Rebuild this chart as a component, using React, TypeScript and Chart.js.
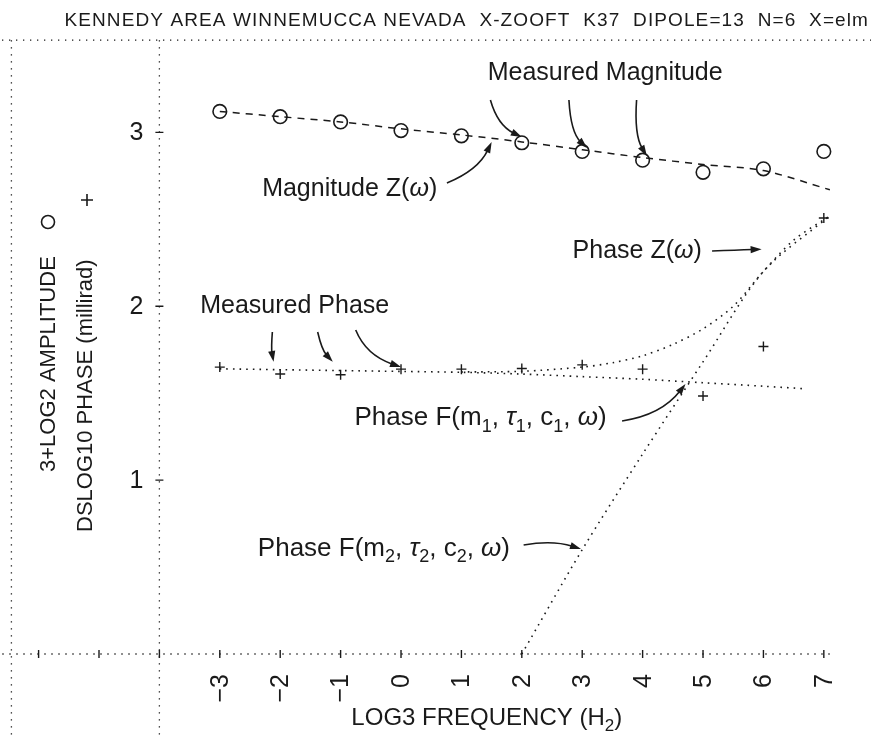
import React, { useEffect, useRef } from "react";
import { Chart, registerables } from "chart.js";

Chart.register(...registerables);

// ---- data -------------------------------------------------------------
const freqs = [-3, -2, -1, 0, 1, 2, 3, 4, 5, 6, 7];
const measuredMagnitude = [3.12, 3.09, 3.06, 3.01, 2.98, 2.94, 2.89, 2.84, 2.77, 2.79, 2.89];
const measuredPhase = [1.65, 1.61, 1.606, 1.638, 1.638, 1.642, 1.663, 1.638, 1.484, 1.768, 2.507];

const magnitudeFitX = [-3, -2, -1, 0, 1, 2, 3, 4, 5, 6, 7.1];
const magnitudeFit = [3.12, 3.09, 3.06, 3.02, 2.985, 2.945, 2.9, 2.855, 2.815, 2.78, 2.67];

const phaseF1X = [-3, -2, -1, 0, 1, 2, 3, 4, 5, 6, 6.7];
const phaseF1 = [1.64, 1.635, 1.63, 1.625, 1.62, 1.61, 1.595, 1.58, 1.56, 1.54, 1.525];

const phaseF2X = [2, 3, 4, 5, 6, 7.1];
const phaseF2 = [0, 0.6, 1.15, 1.68, 2.2, 2.52];

const phaseZX = [1, 2, 3, 3.5, 4, 4.5, 5, 5.5, 6, 6.5, 7.1];
const phaseZ = [1.622, 1.626, 1.65, 1.675, 1.715, 1.78, 1.87, 2.0, 2.2, 2.38, 2.52];

const xTickValues = [-6, -5, -4, -3, -2, -1, 0, 1, 2, 3, 4, 5, 6, 7];
const xTickLabels = ["\u22123", "\u22122", "\u22121", "0", "1", "2", "3", "4", "5", "6", "7"];
const yTickValues = [1, 2, 3];

const TITLE = "KENNEDY AREA WINNEMUCCA NEVADA  X-ZOOFT  K37  DIPOLE=13  N=6  X=elm";

// ---- drawing helpers ---------------------------------------------------
const FONT = '"Liberation Sans", Arial, Helvetica, sans-serif';
const INK = "#1a1a1a";

type Seg = { t: string; sub?: boolean; it?: boolean };

function segFont(s: Seg, size: number) {
  return `${s.it ? "italic " : ""}${s.sub ? Math.round(size * 0.7) : size}px ${FONT}`;
}

function drawRich(ctx: CanvasRenderingContext2D, segs: Seg[], x: number, y: number, size: number, align: "left" | "center" | "right") {
  let total = 0;
  const widths = segs.map((s) => {
    ctx.font = segFont(s, size);
    const w = ctx.measureText(s.t).width;
    total += w;
    return w;
  });
  let cx = align === "left" ? x : align === "center" ? x - total / 2 : x - total;
  ctx.textAlign = "left";
  ctx.textBaseline = "alphabetic";
  segs.forEach((s, i) => {
    ctx.font = segFont(s, size);
    ctx.fillText(s.t, cx, s.sub ? y + size * 0.24 : y);
    cx += widths[i];
  });
}

type P = { x: number; y: number };

function arrow(ctx: CanvasRenderingContext2D, p0: P, c: P, p1: P) {
  const ang = Math.atan2(p1.y - c.y, p1.x - c.x);
  const L = 11;
  const hw = 3.6;
  const bx = p1.x - L * Math.cos(ang);
  const by = p1.y - L * Math.sin(ang);
  ctx.beginPath();
  ctx.moveTo(p0.x, p0.y);
  ctx.quadraticCurveTo(c.x, c.y, bx + 2 * Math.cos(ang), by + 2 * Math.sin(ang));
  ctx.setLineDash([]);
  ctx.lineWidth = 1.6;
  ctx.strokeStyle = INK;
  ctx.stroke();
  ctx.beginPath();
  ctx.moveTo(p1.x, p1.y);
  ctx.lineTo(bx - hw * Math.sin(ang), by + hw * Math.cos(ang));
  ctx.lineTo(bx + hw * Math.sin(ang), by - hw * Math.cos(ang));
  ctx.closePath();
  ctx.fillStyle = INK;
  ctx.fill();
}

const framePlugin = {
  id: "frame",
  beforeDatasetsDraw(chart: any) {
    const { ctx, scales } = chart;
    const xs = scales.x;
    const ys = scales.y;
    const X = (v: number) => xs.getPixelForValue(v);
    const Y = (v: number) => ys.getPixelForValue(v);
    const bottom = chart.height;
    const right = chart.width;

    ctx.save();
    ctx.strokeStyle = INK;
    ctx.lineWidth = 1.3;
    ctx.setLineDash([1.3, 5.7]);

    // outer dotted frame: top and left
    ctx.beginPath();
    ctx.moveTo(2, Y(3.53));
    ctx.lineTo(right, Y(3.53));
    ctx.moveTo(X(-6.45), Y(3.53));
    ctx.lineTo(X(-6.45), bottom);
    // dotted axes
    ctx.moveTo(X(-4), Y(3.53));
    ctx.lineTo(X(-4), bottom);
    ctx.moveTo(X(-6.6), Y(0));
    ctx.lineTo(X(7.15), Y(0));
    ctx.stroke();

    // tick marks
    ctx.setLineDash([]);
    ctx.lineWidth = 1.4;
    ctx.beginPath();
    xTickValues.forEach((v) => {
      ctx.moveTo(X(v), Y(0) - 4);
      ctx.lineTo(X(v), Y(0) + 4);
    });
    yTickValues.forEach((v) => {
      ctx.moveTo(X(-4) - 4, Y(v));
      ctx.lineTo(X(-4) + 4, Y(v));
    });
    ctx.stroke();
    ctx.restore();
  },
  afterDraw(chart: any) {
    const { ctx, scales } = chart;
    const xs = scales.x;
    const ys = scales.y;
    const X = (v: number) => xs.getPixelForValue(v);
    const Y = (v: number) => ys.getPixelForValue(v);
    const pt = (x: number, y: number) => ({ x: X(x), y: Y(y) });
    const S = 25;

    ctx.save();
    ctx.fillStyle = INK;

    // title
    ctx.font = `19px ${FONT}`;
    (ctx as any).letterSpacing = "1.1px";
    ctx.textAlign = "right";
    ctx.textBaseline = "alphabetic";
    ctx.fillText(TITLE, chart.width - 2, 26);
    (ctx as any).letterSpacing = "0px";

    // y tick labels
    ctx.font = `${S}px ${FONT}`;
    ctx.textAlign = "right";
    ctx.textBaseline = "middle";
    yTickValues.forEach((v) => ctx.fillText(String(v), X(-4) - 16, Y(v) + 1));

    // x tick labels, rotated
    freqs.forEach((v, i) => {
      ctx.save();
      ctx.translate(X(v) + 1, Y(0) + 20);
      ctx.rotate(-Math.PI / 2);
      ctx.font = `${S}px ${FONT}`;
      ctx.textAlign = "right";
      ctx.textBaseline = "middle";
      ctx.fillText(xTickLabels[i], 0, 0);
      ctx.restore();
    });

    // x axis title
    drawRich(ctx, [{ t: "LOG3 FREQUENCY (H" }, { t: "2", sub: true }, { t: ")" }], X(1.42), Y(-0.41), 24, "center");

    // y axis titles with their marker symbols
    const drawVertical = (text: string, cx: number, startY: number) => {
      ctx.save();
      ctx.translate(cx, startY);
      ctx.rotate(-Math.PI / 2);
      ctx.font = `22px ${FONT}`;
      ctx.textAlign = "left";
      ctx.textBaseline = "middle";
      ctx.fillText(text, 0, 0);
      ctx.restore();
    };
    drawVertical("3+LOG2 AMPLITUDE", 49, 472);
    drawVertical("DSLOG10 PHASE (millirad)", 86, 532);
    ctx.strokeStyle = INK;
    ctx.lineWidth = 1.6;
    ctx.beginPath();
    ctx.arc(48, 222, 6.5, 0, Math.PI * 2);
    ctx.stroke();
    ctx.beginPath();
    ctx.moveTo(87, 194);
    ctx.lineTo(87, 206);
    ctx.moveTo(81, 200);
    ctx.lineTo(93, 200);
    ctx.stroke();

    // annotations
    ctx.fillStyle = INK;
    drawRich(ctx, [{ t: "Measured Magnitude" }], X(3.38), Y(3.3), S, "center");
    arrow(ctx, pt(1.48, 3.186), pt(1.6, 3.04), pt(2.0, 2.973));
    arrow(ctx, pt(2.78, 3.186), pt(2.81, 3.0), pt(3.08, 2.91));
    arrow(ctx, pt(3.9, 3.186), pt(3.86, 2.985), pt(4.07, 2.864));

    drawRich(ctx, [{ t: "Magnitude Z(" }, { t: "\u03c9", it: true }, { t: ")" }], X(-0.85), Y(2.635), S, "center");
    arrow(ctx, pt(0.76, 2.708), pt(1.28, 2.783), pt(1.5, 2.944));

    drawRich(ctx, [{ t: "Measured Phase" }], X(-1.76), Y(1.96), S, "center");
    arrow(ctx, pt(-2.13, 1.852), pt(-2.15, 1.76), pt(-2.11, 1.68));
    arrow(ctx, pt(-1.38, 1.852), pt(-1.31, 1.748), pt(-1.13, 1.68));
    arrow(ctx, pt(-0.75, 1.863), pt(-0.58, 1.719), pt(0.0, 1.65));

    drawRich(ctx, [{ t: "Phase Z(" }, { t: "\u03c9", it: true }, { t: ")" }], X(4.98), Y(2.28), S, "right");
    arrow(ctx, pt(5.15, 2.318), pt(5.55, 2.322), pt(5.97, 2.328));

    drawRich(
      ctx,
      [
        { t: "Phase F(m" }, { t: "1", sub: true }, { t: ", " }, { t: "\u03c4", it: true }, { t: "1", sub: true },
        { t: ", c" }, { t: "1", sub: true }, { t: ", " }, { t: "\u03c9", it: true }, { t: ")" },
      ],
      X(-0.77), Y(1.315), 26, "left"
    );
    arrow(ctx, pt(3.66, 1.34), pt(4.31, 1.374), pt(4.71, 1.553));

    drawRich(
      ctx,
      [
        { t: "Phase F(m" }, { t: "2", sub: true }, { t: ", " }, { t: "\u03c4", it: true }, { t: "2", sub: true },
        { t: ", c" }, { t: "2", sub: true }, { t: ", " }, { t: "\u03c9", it: true }, { t: ")" },
      ],
      X(-2.37), Y(0.565), 26, "left"
    );
    arrow(ctx, pt(2.03, 0.627), pt(2.51, 0.656), pt(2.98, 0.604));

    ctx.restore();
  },
};

const pts = (xs: number[], ys: number[]) => xs.map((x, i) => ({ x, y: ys[i] }));

export default function App() {
  const ref = useRef<HTMLCanvasElement | null>(null);

  useEffect(() => {
    if (!ref.current) return;
    const dotted = { borderColor: INK, borderWidth: 1.6, borderDash: [1.6, 5], pointRadius: 0, showLine: true, tension: 0.3, fill: false };
    const chart = new Chart(ref.current, {
      type: "scatter",
      data: {
        datasets: [
          {
            label: "Measured magnitude",
            data: pts(freqs, measuredMagnitude),
            pointStyle: "circle",
            pointRadius: 6.8,
            pointBorderWidth: 1.6,
            borderColor: INK,
            backgroundColor: "rgba(0,0,0,0)",
            showLine: false,
          },
          {
            label: "Measured phase",
            data: pts(freqs, measuredPhase),
            pointStyle: "cross",
            pointRadius: 5,
            pointBorderWidth: 1.4,
            borderColor: INK,
            backgroundColor: INK,
            showLine: false,
          },
          {
            label: "Magnitude Z",
            data: pts(magnitudeFitX, magnitudeFit),
            borderColor: INK,
            borderWidth: 1.5,
            borderDash: [7, 6],
            pointRadius: 0,
            showLine: true,
            tension: 0.3,
            fill: false,
          },
          { label: "Phase F1", data: pts(phaseF1X, phaseF1), ...dotted },
          { label: "Phase F2", data: pts(phaseF2X, phaseF2), ...dotted },
          { label: "Phase Z", data: pts(phaseZX, phaseZ), ...dotted },
        ] as any,
      },
      options: {
        animation: false,
        responsive: false,
        events: [],
        layout: { padding: 0, autoPadding: false },
        plugins: {
          legend: { display: false },
          tooltip: { enabled: false },
          title: { display: false },
        },
        scales: {
          x: { type: "linear", min: -6.639, max: 7.781, display: false },
          y: { type: "linear", min: -0.483, max: 3.761, display: false },
        },
      },
      plugins: [framePlugin],
    });
    return () => chart.destroy();
  }, []);

  return (
    <div style={{ position: "fixed", left: 0, top: 0, width: 871, height: 738, background: "#fff" }}>
      <canvas ref={ref} width={871} height={738} style={{ display: "block", width: 871, height: 738 }} />
    </div>
  );
}
